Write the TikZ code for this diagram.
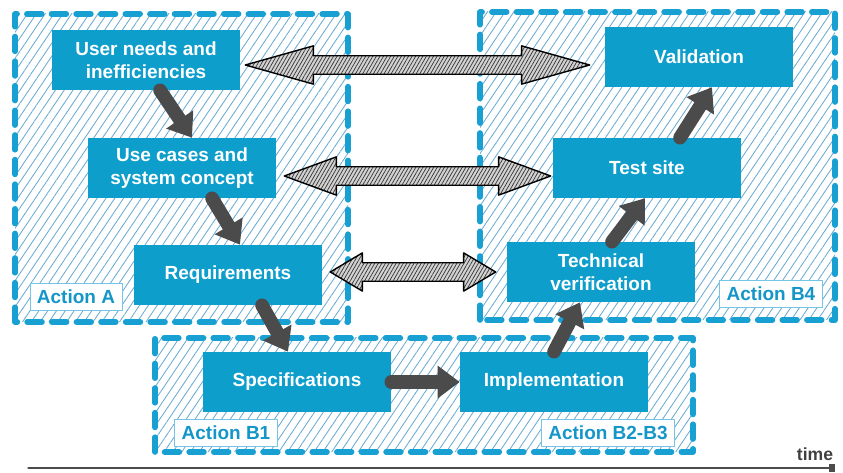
\documentclass[tikz,border=0pt]{standalone}
\usepackage{xcolor}
\usepackage{fontspec}
\setsansfont{Liberation Sans}
\usepackage{tikz}
\usetikzlibrary{arrows.meta,calc,patterns.meta}

\definecolor{stageblue}{RGB}{14,158,204}
\definecolor{dashblue}{RGB}{25,160,210}
\definecolor{hatchblue}{RGB}{105,170,212}
\definecolor{flowgray}{RGB}{75,75,75}
\definecolor{labelblue}{RGB}{20,150,200}

\tikzset{
	stage/.style={rectangle,fill=stageblue,text=white,align=center,inner sep=0pt,
		minimum width=4.7cm,minimum height=1.5cm,
		font=\sffamily\bfseries\fontsize{13.5}{16}\selectfont},
	actionbox/.style={draw=dashblue,line width=4pt,dash pattern=on 10.5pt off 7pt,
		pattern={Lines[angle=56,distance=5.2pt,line width=0.6pt]},pattern color=hatchblue},
	actionlabel/.style={draw=dashblue!60,line width=0.6pt,fill=white,text=labelblue,
		inner xsep=5pt,inner ysep=0pt,minimum height=0.67cm,
		font=\sffamily\bfseries\fontsize{13.5}{16}\selectfont},
	flow/.style={draw=flowgray,line width=0.34cm,-{Triangle[length=0.55cm,width=0.78cm]}},
	link/.style={draw=black,line width=1pt,preaction={fill=gray!35},
		pattern={Lines[angle=60,distance=2.2pt,line width=0.5pt]},pattern color=black!80}
}

\begin{document}
\begin{tikzpicture}[line cap=round,line join=round,x=0.025cm,y=0.025cm]
	\useasboundingbox (0,0) rectangle (843,473);
	% hatched action areas
	\draw [actionbox] (15,151) rectangle (348,459);
	\draw [actionbox] (480,153) rectangle (835,461);
	\draw [actionbox] (155,21) rectangle (693,135);
	% stages
	\node [stage] (usr) at (146,413) {User needs and\\inefficiencies};
	\node [stage] (use) at (182,305) {Use cases and\\system concept};
	\node [stage] (req) at (228,198) {Requirements};
	\node [stage] (spe) at (297,91) {Specifications};
	\node [stage] (imp) at (554,91) {Implementation};
	\node [stage] (tec) at (601,201) {Technical\\verification};
	\node [stage] (tst) at (647,305) {Test site};
	\node [stage] (val) at (699,416) {Validation};
	% action labels
	\node [actionlabel] (lblA) at (76,176) {Action A};
	\node [actionlabel] (lblB4) at (771,179) {Action B4};
	\node [actionlabel] (lblB1) at (226,40) {Action B1};
	\node [actionlabel] (lblB23) at (608,40) {Action B2-B3};
	% flow between stages
	\draw [flow] ($(usr.south)+(14,0)$) -- ($(use.north)+(10,0)$);
	\draw [flow] ($(use.south)+(30,0)$) -- ($(req.north)+(12,0)$);
	\draw [flow] ($(req.south)+(34,0)$) -- ($(spe.north)+(-9,0)$);
	\draw [flow] (spe.east) -- (imp.west);
	\draw [flow] (imp.north) -- ($(tec.south)+(-21,0)$);
	\draw [flow] ($(tec.north)+(11,0)$) -- ($(tst.south)+(-2,0)$);
	\draw [flow] ($(tst.north)+(33,0)$) -- ($(val.south)+(13,0)$);
	% feedback links (hollow double arrows)
	\draw [link] let \p1=($(usr.east)+(5,-5)$), \p2=($(val.west)+(-15,0)$), \n1={48.4pt} in
		(\p1) -- (\x1+\n1,\y1+13.6pt) -- (\x1+\n1,\y1+6.6pt) -- (\x2-\n1,\y1+6.6pt)
		-- (\x2-\n1,\y1+13.6pt) -- (\x2,\y1) -- (\x2-\n1,\y1-13.6pt) -- (\x2-\n1,\y1-6.6pt)
		-- (\x1+\n1,\y1-6.6pt) -- (\x1+\n1,\y1-13.6pt) -- cycle;
	\draw [link] let \p1=($(use.east)+(8,-8)$), \p2=($(tst.west)+(-2,0)$), \n1={37pt} in
		(\p1) -- (\x1+\n1,\y1+13.6pt) -- (\x1+\n1,\y1+6.6pt) -- (\x2-\n1,\y1+6.6pt)
		-- (\x2-\n1,\y1+13.6pt) -- (\x2,\y1) -- (\x2-\n1,\y1-13.6pt) -- (\x2-\n1,\y1-6.6pt)
		-- (\x1+\n1,\y1-6.6pt) -- (\x1+\n1,\y1-13.6pt) -- cycle;
	\draw [link] let \p1=($(req.east)+(8,3)$), \p2=($(tec.west)+(-11,0)$), \n1={22.8pt} in
		(\p1) -- (\x1+\n1,\y1+13.6pt) -- (\x1+\n1,\y1+6.6pt) -- (\x2-\n1,\y1+6.6pt)
		-- (\x2-\n1,\y1+13.6pt) -- (\x2,\y1) -- (\x2-\n1,\y1-13.6pt) -- (\x2-\n1,\y1-6.6pt)
		-- (\x1+\n1,\y1-6.6pt) -- (\x1+\n1,\y1-13.6pt) -- cycle;
	% time axis
	\coordinate (t0) at (28,5);
	\coordinate (t1) at (835,5);
	\draw [draw=black!70,line width=0.8pt,-{Square[length=4pt,width=5pt]}] (t0) -- (t1);
	\node [text=black!75,font=\sffamily\bfseries\fontsize{12.5}{15}\selectfont] (time) at (815,19) {time};
\end{tikzpicture}
\end{document}
